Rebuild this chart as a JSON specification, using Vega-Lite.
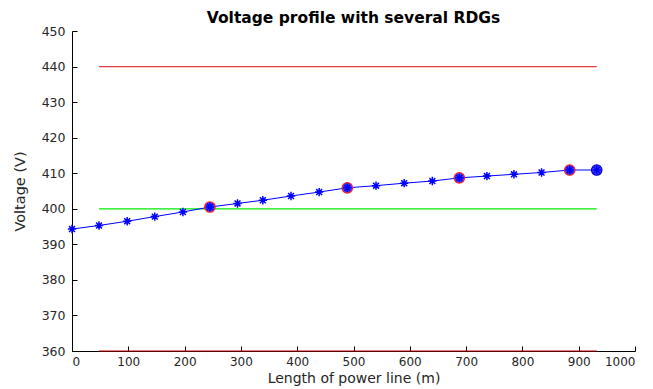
{
  "$schema": "https://vega.github.io/schema/vega-lite/v6.json",
  "width": 563,
  "height": 320,
  "autosize": "none",
  "padding": {"left": 72, "top": 31, "right": 18, "bottom": 38},
  "background": "white",
  "config": {
    "view": {"stroke": null},
    "font": "DejaVu Sans",
    "axis": {
      "grid": false,
      "domainColor": "#000000",
      "domainWidth": 1,
      "tickColor": "#000000",
      "tickSize": -5,
      "labelColor": "#262626",
      "labelFontSize": 12.5,
      "labelFont": "DejaVu Sans",
      "titleFont": "DejaVu Sans",
      "titleFontWeight": "normal",
      "titleColor": "#262626",
      "titleFontSize": 14.5
    }
  },
  "title": {
    "text": "Voltage profile with several RDGs",
    "fontSize": 15.5,
    "fontWeight": "bold",
    "font": "DejaVu Sans",
    "color": "#000000",
    "offset": -1,
    "anchor": "middle"
  },
  "datasets": {
    "profile": [
      {"length": 0, "voltage": 394.3, "rdg": "no"},
      {"length": 48, "voltage": 395.3, "rdg": "no"},
      {"length": 98, "voltage": 396.5, "rdg": "no"},
      {"length": 147, "voltage": 397.8, "rdg": "no"},
      {"length": 197, "voltage": 399.1, "rdg": "no"},
      {"length": 245, "voltage": 400.5, "rdg": "yes"},
      {"length": 294, "voltage": 401.5, "rdg": "no"},
      {"length": 339, "voltage": 402.4, "rdg": "no"},
      {"length": 389, "voltage": 403.6, "rdg": "no"},
      {"length": 439, "voltage": 404.7, "rdg": "no"},
      {"length": 489, "voltage": 405.9, "rdg": "yes"},
      {"length": 540, "voltage": 406.5, "rdg": "no"},
      {"length": 590, "voltage": 407.2, "rdg": "no"},
      {"length": 640, "voltage": 407.8, "rdg": "no"},
      {"length": 688, "voltage": 408.7, "rdg": "yes"},
      {"length": 737, "voltage": 409.2, "rdg": "no"},
      {"length": 785, "voltage": 409.7, "rdg": "no"},
      {"length": 834, "voltage": 410.2, "rdg": "no"},
      {"length": 884, "voltage": 410.9, "rdg": "yes"},
      {"length": 932, "voltage": 410.9, "rdg": "end"}
    ],
    "limits": [
      {"length": 48, "voltage": 440, "limit": "upper"},
      {"length": 932, "voltage": 440, "limit": "upper"},
      {"length": 48, "voltage": 400, "limit": "nominal"},
      {"length": 932, "voltage": 400, "limit": "nominal"},
      {"length": 48, "voltage": 360, "limit": "lower"},
      {"length": 932, "voltage": 360, "limit": "lower"}
    ]
  },
  "encoding": {
    "x": {
      "field": "length",
      "type": "quantitative",
      "scale": {"domain": [0, 1000], "nice": false, "zero": false},
      "axis": {"values": [0, 100, 200, 300, 400, 500, 600, 700, 800, 900, 1000], "format": "d", "title": "Length of power line (m)", "labelPadding": 10, "labelFontSize": 12, "titlePadding": 4, "titleFontSize": 14}
    },
    "y": {
      "field": "voltage",
      "type": "quantitative",
      "scale": {"domain": [360, 450], "nice": false, "zero": false},
      "axis": {"values": [360, 370, 380, 390, 400, 410, 420, 430, 440, 450], "title": "Voltage (V)", "labelPadding": 12, "titlePadding": 14}
    }
  },
  "layer": [
    {
      "data": {"name": "limits"},
      "mark": {"type": "line", "strokeWidth": 1.2},
      "encoding": {
        "color": {
          "field": "limit",
          "type": "nominal",
          "scale": {"domain": ["upper", "nominal", "lower"], "range": ["#e03a3a", "#00ee00", "#c00000"]},
          "legend": null
        }
      }
    },
    {
      "data": {"name": "profile"},
      "mark": {"type": "line", "color": "#0000ff", "strokeWidth": 1}
    },
    {
      "data": {"name": "profile"},
      "transform": [{"filter": "datum.rdg == 'yes'"}],
      "mark": {"type": "point", "shape": "circle", "size": 110, "filled": true, "fill": "#3a3aff", "stroke": "#ff2020", "strokeWidth": 1.2, "opacity": 1}
    },
    {
      "data": {"name": "profile"},
      "transform": [{"filter": "datum.rdg == 'end'"}],
      "mark": {"type": "point", "shape": "circle", "size": 110, "filled": true, "fill": "#4040ff", "stroke": "#0000cc", "strokeWidth": 1.2, "opacity": 1}
    },
    {
      "data": {"name": "profile"},
      "mark": {
        "type": "point",
        "shape": "M-1,0L1,0M0,-1L0,1M-0.7,-0.7L0.7,0.7M-0.7,0.7L0.7,-0.7",
        "size": 70,
        "filled": false,
        "stroke": "#0000ff",
        "strokeWidth": 1.5,
        "opacity": 1
      }
    }
  ]
}
